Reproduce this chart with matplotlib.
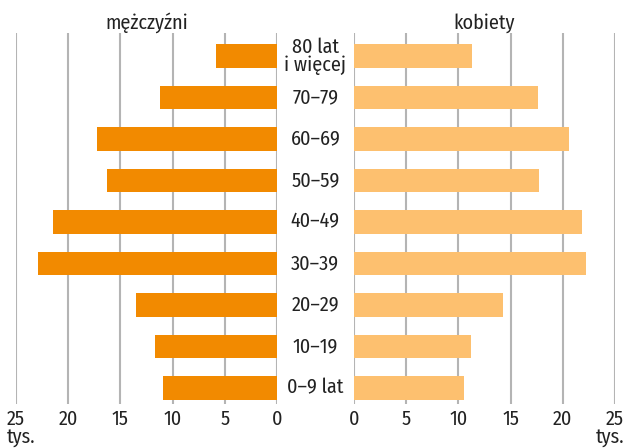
import matplotlib.pyplot as plt

plt.rcParams['font.family'] = ['Fira Sans Condensed', 'DejaVu Sans']

# data (tys.), rows from bottom to top
groups = ['0–9 lat', '10–19', '20–29', '30–39', '40–49', '50–59', '60–69', '70–79', '80 lat\ni więcej']
men = [10.9, 11.7, 13.5, 22.9, 21.5, 16.3, 17.2, 11.2, 5.8]
women = [10.5, 11.2, 14.3, 22.2, 21.8, 17.7, 20.6, 17.6, 11.3]
ticks = [0, 5, 10, 15, 20, 25]

c_men = '#F28A00'
c_women = '#FDC06F'
grid_c = '#b4b4b4'
txt = '#222222'
fs = 14.5

W, H = 626, 448
fig = plt.figure(figsize=(W / 100, H / 100), dpi=100)
bottom = (H - 404) / H
height = 371 / H
axL = fig.add_axes([16 / W, bottom, 261 / W, height])
axR = fig.add_axes([354 / W, bottom, 261 / W, height])

y = list(range(len(groups)))
for ax, vals, col in [(axL, men, c_men), (axR, women, c_women)]:
    ax.set_axisbelow(True)
    ax.barh(y, vals, height=0.56, color=col, zorder=2)
    ax.set_ylim(-0.385, 8.554)
    ax.set_xticks(ticks)
    ax.set_xticklabels([str(t) for t in ticks], fontsize=fs, color=txt)
    ax.tick_params(axis='x', length=0, pad=4)
    ax.set_yticks([])
    ax.grid(axis='x', color=grid_c, linewidth=1.5, zorder=0)
    for s in ax.spines.values():
        s.set_visible(False)

axL.set_xlim(25, 0)
axR.set_xlim(0, 25)

axL.set_title('mężczyźni', fontsize=fs, color=txt, pad=3)
axR.set_title('kobiety', fontsize=fs, color=txt, pad=3)

# category labels in the middle
for yi, g in zip(y, groups):
    axR.text(-3.7, yi, g, ha='center', va='center', fontsize=fs, color=txt,
             linespacing=0.9, transform=axR.transData, clip_on=False)

fig.text(7 / W, 1 - 438 / H, 'tys.', fontsize=fs, color=txt, ha='left', va='center')
fig.text(624 / W, 1 - 438 / H, 'tys.', fontsize=fs, color=txt, ha='right', va='center')

fig.savefig('out.png', dpi=100)
